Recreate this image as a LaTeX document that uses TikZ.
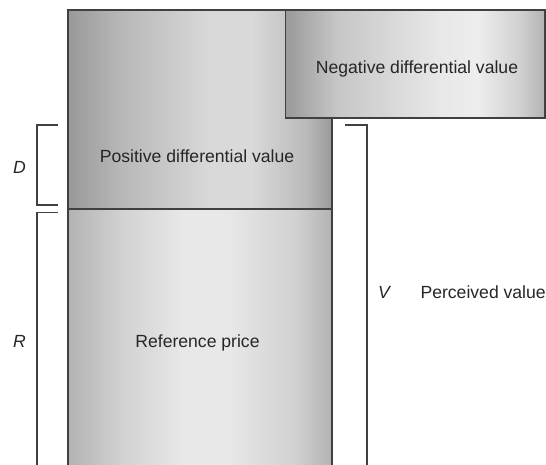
\documentclass[tikz,border=0pt]{standalone}
\usepackage{fontspec}
\setmainfont{Liberation Sans}

% Shadings for the three boxes (path spans 25bp to 75bp)
\pgfdeclarehorizontalshading{posshade}{100bp}{color(0bp)=(black!40); color(25bp)=(black!40);
    color(35bp)=(black!28); color(52bp)=(black!15); color(60bp)=(black!15); color(70bp)=(black!27);
    color(75bp)=(black!40); color(100bp)=(black!40)}
\pgfdeclarehorizontalshading{refshade}{100bp}{color(0bp)=(black!30); color(25bp)=(black!30);
    color(35bp)=(black!18); color(47bp)=(black!9); color(55bp)=(black!9); color(68bp)=(black!18);
    color(75bp)=(black!30); color(100bp)=(black!30)}
\pgfdeclarehorizontalshading{negshade}{100bp}{color(0bp)=(black!40); color(25bp)=(black!40);
    color(35bp)=(black!22); color(55bp)=(black!9); color(62bp)=(black!7); color(70bp)=(black!18);
    color(75bp)=(black!30); color(100bp)=(black!30)}

\begin{document}
\begin{tikzpicture}[x=1pt, y=-1pt,
        valuebox/.style={draw=black!75, line width=1.3pt, inner sep=0pt},
        boxtext/.style={anchor=base, font=\fontsize{17.6}{20}\selectfont, text=black!85},
        bracketline/.style={draw=black!75, line width=1.3pt}]
        \clip (0,0) rectangle (546,465);

        % Draw boxes
        \node[valuebox, shading=posshade,
              minimum width=264pt, minimum height=199pt] (pos) at (200,109.5) {};
        \node[valuebox, shading=refshade,
              minimum width=264pt, minimum height=266pt] (ref) at (200,342) {};
        \node[valuebox, shading=negshade,
              minimum width=259.3pt, minimum height=108pt] (neg) at (415.35,64) {};

        % Box labels
        \node[boxtext] (negtext) at (417,73.3) {Negative differential value};
        \node[boxtext] (postext) at (197,163) {Positive differential value};
        \node[boxtext] (reftext) at (197.5,347) {Reference price};

        % Brackets
        \coordinate (d1) at (58,125);
        \coordinate (d2) at (37,125);
        \coordinate (d3) at (37,205);
        \coordinate (d4) at (58,205);
        \coordinate (r1) at (58,212.7);
        \coordinate (r2) at (37,212.7);
        \coordinate (r3) at (37,470);
        \coordinate (v1) at (345,125);
        \coordinate (v2) at (367,125);
        \coordinate (v3) at (367,470);
        \draw[bracketline] (d1) -- (d2) -- (d3) -- (d4);
        \draw[bracketline] (r1) -- (r2) -- (r3);
        \draw[bracketline] (v1) -- (v2) -- (v3);

        % Bracket labels
        \node[boxtext, font=\fontsize{17.6}{20}\selectfont\itshape] (dlabel) at (19.5,174) {D};
        \node[boxtext, font=\fontsize{17.6}{20}\selectfont\itshape] (rlabel) at (19.5,347) {R};
        \node[boxtext, font=\fontsize{17.6}{20}\selectfont\itshape] (vlabel) at (384,298.5) {V};
        \node[boxtext, anchor=base west] (vtext) at (417,298.5) {Perceived value};
    \end{tikzpicture}
\end{document}
